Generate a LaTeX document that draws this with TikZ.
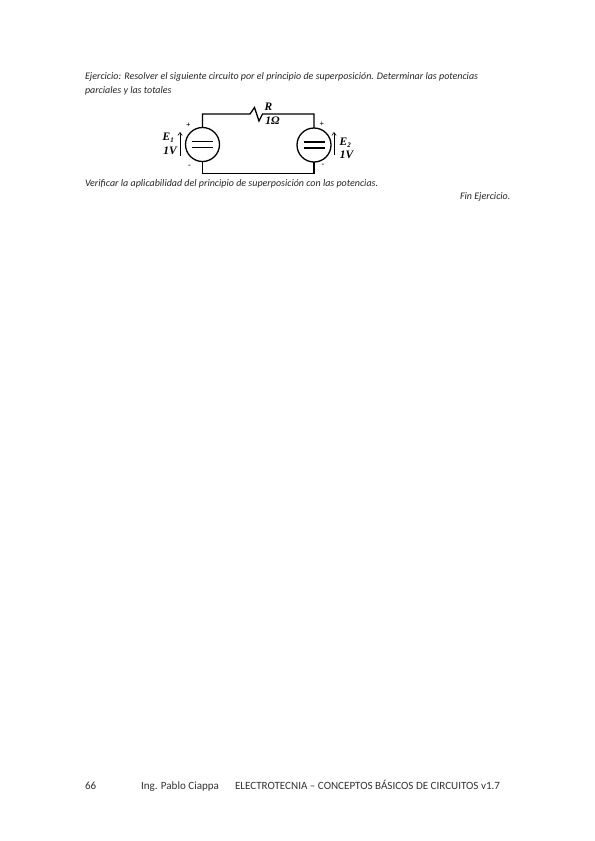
\documentclass[tikz,border=0pt]{standalone}
\usepackage{fontspec}
\setmainfont{Carlito}
\newfontfamily\circfont{Liberation Serif}
\usetikzlibrary{arrows.meta}
\tikzset{
  page/.style={inner sep=0pt,outer sep=0pt,anchor=base west,font=\fontsize{10.05}{12}\selectfont\itshape,text=black!85},
  foot/.style={inner sep=0pt,outer sep=0pt,anchor=base west,font=\fontsize{11.1}{13}\selectfont,text=black!80},
  wire/.style={draw=black,line width=1.3pt},
  source/.style={circle,draw=black,line width=1.3pt,minimum size=34bp,inner sep=0pt,outer sep=0pt},
  lab/.style={inner sep=0pt,font=\circfont\bfseries\itshape\fontsize{11.5}{12}\selectfont},
  sgn/.style={inner sep=0pt,font=\circfont\bfseries\fontsize{8}{9}\selectfont},
  volt/.style={draw=black,line width=.6pt,-{Straight Barb[length=3bp,width=4.5bp]}}
}
\begin{document}
\begin{tikzpicture}[x=1bp,y=-1bp]
\useasboundingbox (0,0) rectangle (595,841);
\fill[white] (0,0) rectangle (595,841);
\node[page] (t1) at (85,79) {Ejercicio: Resolver el siguiente circuito por el principio de superposición. Determinar las potencias};
\node[page] (t2) at (85,93) {parciales y las totales};
\node[page] (t3) at (85,186) {Verificar la aplicabilidad del principio de superposición con las potencias.};
\node[page] (t4) at (460,199) {Fin Ejercicio.};
\node[foot] (f1) at (85,789.5) {66};
\node[foot] (f2) at (141,789.5) {Ing. Pablo Ciappa};
\node[foot] (f3) at (235,789.5) {ELECTROTECNIA – CONCEPTOS BÁSICOS DE CIRCUITOS v1.7};
% sources
\node[source] (s1) at (202.5,144.5) {};
\node[source] (s2) at (314,145) {};
\coordinate (tl) at (202.5,114);
\coordinate (tr) at (314,114);
\coordinate (bl) at (202.5,173.5);
\coordinate (br) at (314,173.5);
\coordinate (ra) at (250,114);
\coordinate (rb) at (262.5,114);
\draw[wire] (s1.north) -- (tl) -- (ra) -- (254.5,107.5) -- (259,121) -- (rb) -- (tr) -- (s2.north);
\draw[wire] (s1.south) -- (bl) -- (br) -- (s2.south);
% bars
\draw[wire] ([xshift=-10.5bp,yshift=-3bp]s1.center) -- ([xshift=10.5bp,yshift=-3bp]s1.center);
\draw[wire] ([xshift=-10.5bp,yshift=3bp]s1.center) -- ([xshift=10.5bp,yshift=3bp]s1.center);
\draw[wire] ([xshift=-10.5bp,yshift=-3bp]s2.center) -- ([xshift=10.5bp,yshift=-3bp]s2.center);
\draw[wire] ([xshift=-10.5bp,yshift=3bp]s2.center) -- ([xshift=10.5bp,yshift=3bp]s2.center);
% voltage arrows
\coordinate (a1s) at (180,156);
\coordinate (a1e) at (180,132);
\coordinate (a2s) at (334,155);
\coordinate (a2e) at (334,132);
\draw[volt] (a1s) -- (a1e);
\draw[volt] (a2s) -- (a2e);
% labels
\node[lab] (e1) at (168.5,137.5) {E\textsubscript{\fontsize{7}{8}\selectfont 1}};
\node[lab] (v1) at (170,151) {1V};
\node[lab] (e2) at (345.5,142.5) {E\textsubscript{\fontsize{7}{8}\selectfont 2}};
\node[lab] (v2) at (346.5,155) {1V};
\node[lab] (r) at (268.5,106.5) {R};
\node[lab] (ro) at (272.5,121) {1Ω};
\node[sgn] (p1) at (188.5,125) {+};
\node[sgn] (m1) at (189.5,166) {-};
\node[sgn] (p2) at (322,124) {+};
\node[sgn] (m2) at (323,165) {-};
\end{tikzpicture}
\end{document}
